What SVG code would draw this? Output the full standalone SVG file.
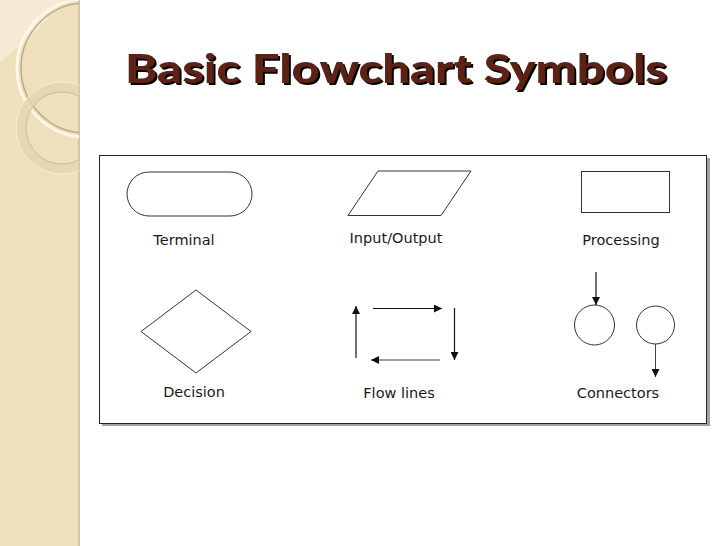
<svg xmlns="http://www.w3.org/2000/svg" width="728" height="546" viewBox="0 0 728 546">
  <defs>
    <style>
      .shape { fill: #ffffff; stroke: #333333; stroke-width: 1; }
      .lbl { font-family: "DejaVu Sans", Verdana, sans-serif; font-size: 14.5px; fill: #1a1a1a; text-anchor: middle; }
      .arrow { stroke: #111111; stroke-width: 1.2; fill: none; marker-end: url(#ah); }
      .title { font-family: Lato, "Open Sans", "Liberation Sans", sans-serif; font-weight: 900; font-size: 39px; }
    </style>
    <filter id="shadow" x="-5%" y="-20%" width="110%" height="150%">
      <feDropShadow dx="2" dy="2" stdDeviation="0.3" flood-color="#000000" flood-opacity="1"/>
    </filter>
    <marker id="ah" viewBox="0 0 10 10" refX="10" refY="5" markerWidth="8" markerHeight="8" markerUnits="userSpaceOnUse" orient="auto">
      <path d="M0,0 L10,5 L0,10 Z" fill="#111111"/>
    </marker>
    <clipPath id="strip">
      <rect x="0" y="0" width="79" height="546"/>
    </clipPath>
  </defs>

  <!-- background -->
  <rect x="0" y="0" width="728" height="546" fill="#ffffff"/>
  <g id="sidebar">
    <rect x="0" y="0" width="79" height="546" fill="#efe0bc"/>
    <rect x="78" y="0" width="2" height="546" fill="#d4c5a4"/>
    <g clip-path="url(#strip)">
      <path d="M0,0 L64,0 Q30,40 0,62 Z" fill="#f5ead3"/>
      <circle cx="86" cy="68" r="69" fill="none" stroke="#fbf6ea" stroke-width="3"/>
      <circle cx="86" cy="68" r="65" fill="none" stroke="#b9ab8c" stroke-width="1.5"/>
      <circle cx="62" cy="128" r="41" fill="none" stroke="#e4d5b1" stroke-width="10" opacity="0.85"/>
      <circle cx="62" cy="128" r="46" fill="none" stroke="#f6eedc" stroke-width="1"/>
      <circle cx="62" cy="128" r="36" fill="none" stroke="#cdbd9a" stroke-width="1"/>
    </g>
  </g>

  <!-- title -->
  <g id="title">
    <text class="title" x="125" y="83" fill="#5b2314" filter="url(#shadow)" textLength="542" lengthAdjust="spacingAndGlyphs">Basic Flowchart Symbols</text>
  </g>

  <!-- panel -->
  <g id="panel">
    <rect x="102" y="158" width="608" height="268" fill="#a2a2a2"/>
    <rect x="99.5" y="155.5" width="607" height="268" fill="#ffffff" stroke="#222222" stroke-width="1"/>
  </g>

  <g id="terminal">
    <rect class="shape" x="127" y="172" width="125" height="44" rx="22" ry="22"/>
    <text class="lbl" x="184" y="245">Terminal</text>
  </g>

  <g id="input-output">
    <polygon class="shape" points="378,171 471,171 441,215.5 348,215.5"/>
    <text class="lbl" x="396" y="243">Input/Output</text>
  </g>

  <g id="processing">
    <rect class="shape" x="581.5" y="171.5" width="88" height="41"/>
    <text class="lbl" x="621" y="245">Processing</text>
  </g>

  <g id="decision">
    <polygon class="shape" points="196,290 251,331.5 196,373 141,331.5"/>
    <text class="lbl" x="194" y="397">Decision</text>
  </g>

  <g id="flow-lines">
    <text class="lbl" x="399" y="398">Flow lines</text>
  </g>

  <g id="connector-in">
    <circle class="shape" cx="594.5" cy="325" r="20"/>
  </g>
  <g id="connector-out">
    <circle class="shape" cx="655.5" cy="325" r="19"/>
  </g>
  <g id="connectors-label">
    <text class="lbl" x="618" y="398">Connectors</text>
  </g>

  <g id="connectors">
    <line class="arrow" x1="356" y1="358" x2="356" y2="306"/>
    <line class="arrow" x1="373" y1="308.5" x2="442" y2="308.5"/>
    <line class="arrow" x1="454.5" y1="308" x2="454.5" y2="360"/>
    <line class="arrow" x1="440" y1="360" x2="371" y2="360" style="stroke:#444444"/>
    <line class="arrow" x1="596" y1="272" x2="596" y2="305"/>
    <line class="arrow" x1="655.5" y1="344" x2="655.5" y2="377" style="stroke:#444444;stroke-width:1"/>
  </g>
</svg>
